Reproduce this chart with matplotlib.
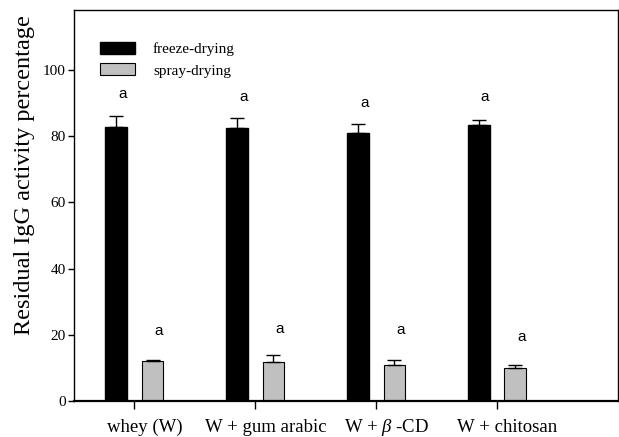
import matplotlib.pyplot as plt
import matplotlib.transforms as mtransforms
import numpy as np

# Données
groupes = ['whey (W)', 'W + gum arabic', 'W + $\\beta$ -CD', 'W + chitosan']
freeze = [82.7, 82.4, 80.9, 83.3]
freeze_err = [3.3, 3.0, 2.6, 1.4]
spray = [12.0, 11.7, 11.0, 9.9]
spray_err = [0.4, 2.1, 1.5, 1.0]
lettres_freeze = ['a', 'a', 'a', 'a']
lettres_spray = ['a', 'a', 'a', 'a']
haut_freeze = [92.6, 91.8, 89.9, 91.8]
haut_spray = [21.1, 21.9, 21.4, 19.4]

plt.rcParams['font.family'] = ['Liberation Serif', 'DejaVu Serif']
plt.rcParams['mathtext.fontset'] = 'custom'
plt.rcParams['mathtext.it'] = 'Liberation Serif:italic'
plt.rcParams['mathtext.rm'] = 'Liberation Serif'

fig = plt.figure(figsize=(6.19, 4.37), dpi=100)
ax = fig.add_axes([0.1195, 0.082, 0.879, 0.895])

x = np.arange(len(groupes))
w = 0.18
d = 0.15

ax.bar(x - d, freeze, w, color='black', edgecolor='black', label='freeze-drying')
ax.bar(x + d, spray, w, color='#c0c0c0', edgecolor='black', linewidth=0.8, label='spray-drying')
ax.errorbar(x - d, freeze, yerr=[[0] * 4, freeze_err], fmt='none', ecolor='black',
            elinewidth=1, capsize=5, capthick=1)
ax.errorbar(x + d, spray, yerr=[[0] * 4, spray_err], fmt='none', ecolor='black',
            elinewidth=1, capsize=5, capthick=1)

for i in range(len(groupes)):
    ax.text(x[i] - d + 0.05, haut_freeze[i], lettres_freeze[i], ha='center', va='center',
            fontsize=11, family='Liberation Sans')
    ax.text(x[i] + d + 0.05, haut_spray[i], lettres_spray[i], ha='center', va='center',
            fontsize=11, family='Liberation Sans')

ax.set_xlim(-0.5, 4.0)
ax.set_ylim(0, 118)
ax.set_yticks([0, 20, 40, 60, 80, 100])
ax.set_xticks(x)
ax.set_xticklabels(groupes, fontsize=13.5)
ax.tick_params(axis='y', labelsize=11, direction='out', length=4, width=1, pad=2)
ax.tick_params(axis='x', direction='out', length=6, width=1, pad=16)
# étiquettes x légèrement décalées vers la droite
decal = mtransforms.ScaledTranslation(0.10, 0, fig.dpi_scale_trans)
for lab in ax.get_xticklabels():
    lab.set_verticalalignment('baseline')
    lab.set_transform(lab.get_transform() + decal)
ax.set_ylabel('Residual IgG activity percentage', fontsize=17.5)
ax.yaxis.set_label_coords(-0.072, 0.578)

for s in ax.spines.values():
    s.set_linewidth(1)
ax.spines['bottom'].set_linewidth(1.6)

ax.legend(loc='upper left', bbox_to_anchor=(0.033, 0.937), frameon=False, borderpad=0,
          handlelength=2.3, handleheight=0.8, handletextpad=1.2, labelspacing=0.45,
          fontsize=11)

plt.savefig('out.png', dpi=100)
